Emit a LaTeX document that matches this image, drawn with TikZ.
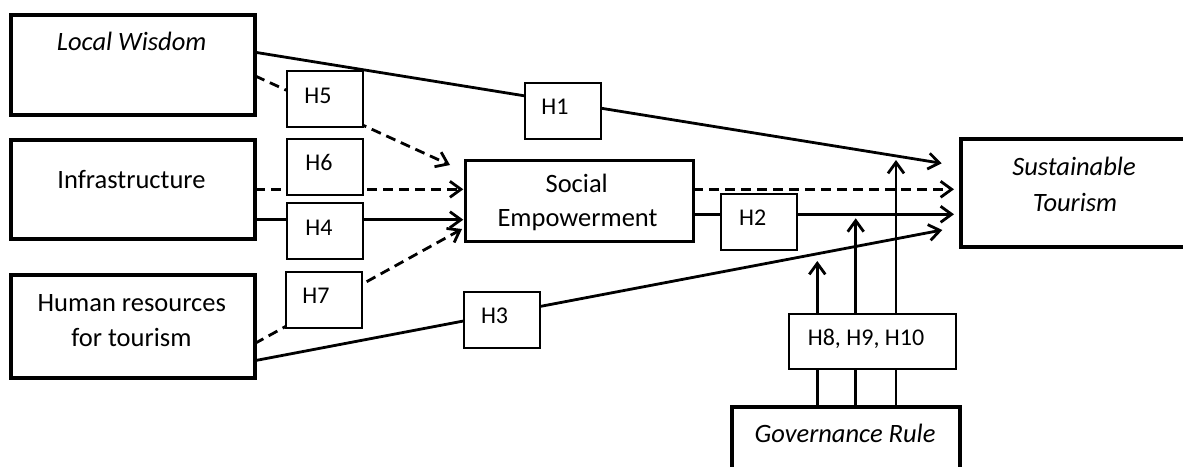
\documentclass[tikz,border=0pt]{standalone}
\usepackage{fontspec}
\setmainfont{Carlito}
\usetikzlibrary{arrows.meta,backgrounds}
\begin{document}
\begin{tikzpicture}[x=1pt,y=-1pt,
  mainbox/.style={draw, line width=4pt, fill=white, inner sep=0pt, outer sep=0pt},
  sebox/.style={mainbox, line width=3.3pt},
  hbox/.style={draw, line width=2pt, fill=white, inner sep=0pt, outer sep=0pt, minimum width=76pt, minimum height=56pt},
  mtxt/.style={inner sep=0pt, text height=16.7pt, text depth=0pt, font=\fontsize{26.5}{30}\selectfont},
  htxt/.style={inner sep=0pt, text height=15.2pt, text depth=0pt, font=\fontsize{24}{28}\selectfont},
  conn/.style={line width=2.8pt, -{Straight Barb[length=11pt,width=16pt]}},
  dconn/.style={conn, dash pattern=on 10pt off 6pt},
  plainline/.style={line width=2.8pt}]
\useasboundingbox (0,0) rectangle (1183,466);
\clip (0,0) rectangle (1183,466);

% main boxes
\node[mainbox, minimum width=244pt, minimum height=99.8pt] (lw) at (133.3,64.6) {};
\node[mainbox, minimum width=244pt, minimum height=99.2pt] (inf) at (133.3,189.1) {};
\node[mainbox, minimum width=243.4pt, minimum height=102.1pt] (hr) at (132.9,326.5) {};
\node[sebox, minimum width=227.6pt, minimum height=81.4pt] (se) at (579.5,201) {};
\node[mainbox, minimum width=229.3pt, minimum height=107.7pt] (st) at (1075.4,193.2) {};
\node[mainbox, minimum width=227.7pt, minimum height=73pt] (gr) at (845.9,443.5) {};

% main texts
\node[mtxt] (lwt) at (131.7,41.7) {\itshape Local Wisdom};
\node[mtxt] (inft) at (131.5,180) {Infrastructure};
\node[mtxt] (hrt1) at (131.8,302.8) {Human resources};
\node[mtxt] (hrt2) at (131.4,338.6) {for tourism};
\node[mtxt] (set1) at (576.7,184.2) {Social};
\node[mtxt] (set2) at (577.5,217.8) {Empowerment};
\node[mtxt] (stt1) at (1074,166.7) {\itshape Sustainable};
\node[mtxt] (stt2) at (1075,203.3) {\itshape Tourism};
\node[mtxt] (grt) at (845,434.3) {\itshape Governance Rule};

% hypothesis boxes
\node[hbox] (h5) at (325.2,99.4) {};
\node[hbox] (h6) at (325.2,166.8) {};
\node[hbox] (h4) at (325.2,231) {};
\node[hbox] (h7) at (323.9,299.5) {};
\node[hbox] (h3) at (502.4,319.9) {};
\node[hbox] (h1) at (562.9,110.9) {};
\node[hbox] (h2) at (758.7,221.8) {};
\node[hbox, minimum width=167.3pt, minimum height=55.6pt] (hb) at (872.7,341.5) {};

\node[htxt] (h5t) at (318,95.7) {H5};
\node[htxt] (h6t) at (319,162.5) {H6};
\node[htxt] (h4t) at (319,227.5) {H4};
\node[htxt] (h7t) at (316,295.5) {H7};
\node[htxt] (h3t) at (494.6,316) {H3};
\node[htxt] (h1t) at (555,107.2) {H1};
\node[htxt] (h2t) at (752.7,217.5) {H2};
\node[htxt] (hbt) at (866,337.5) {H8, H9, H10};

% arrow tip coordinates
\coordinate (t1) at (941.7,163.3);
\coordinate (t5) at (450,165);
\coordinate (t6) at (463.3,189.3);
\coordinate (t4) at (463.3,219.7);
\coordinate (t7) at (462,229);
\coordinate (t3) at (942.3,230);
\coordinate (td) at (954,189.3);
\coordinate (t2) at (954,214.3);
\coordinate (g1) at (817.3,261);
\coordinate (g2) at (855.7,218.3);
\coordinate (g3) at (896,160);

\begin{scope}[on background layer]
  \draw[conn] (lw.east |- 0,52.3) -- (t1);
  \draw[dconn] (lw.east |- 0,76) -- (t5);
  \draw[dconn] (inf.east |- 0,189.3) -- (t6);
  \draw[conn] (inf.east |- 0,219.7) -- (t4);
  \draw[dconn] (hr.east |- 0,343.6) -- (t7);
  \draw[conn] (hr.east |- 0,360.7) -- (t3);
  \draw[dconn] (se.east |- td) -- (td);
  \draw[conn] (se.east |- t2) -- (t2);
  \draw[conn] (hb.north -| g1) -- (g1);
  \draw[conn] (hb.north -| g2) -- (g2);
  \draw[conn] (hb.north -| g3) -- (g3);
  \draw[plainline] (gr.north -| g1) -- (hb.south -| g1);
  \draw[plainline] (gr.north -| g2) -- (hb.south -| g2);
  \draw[plainline] (gr.north -| g3) -- (hb.south -| g3);
\end{scope}
\end{tikzpicture}
\end{document}
